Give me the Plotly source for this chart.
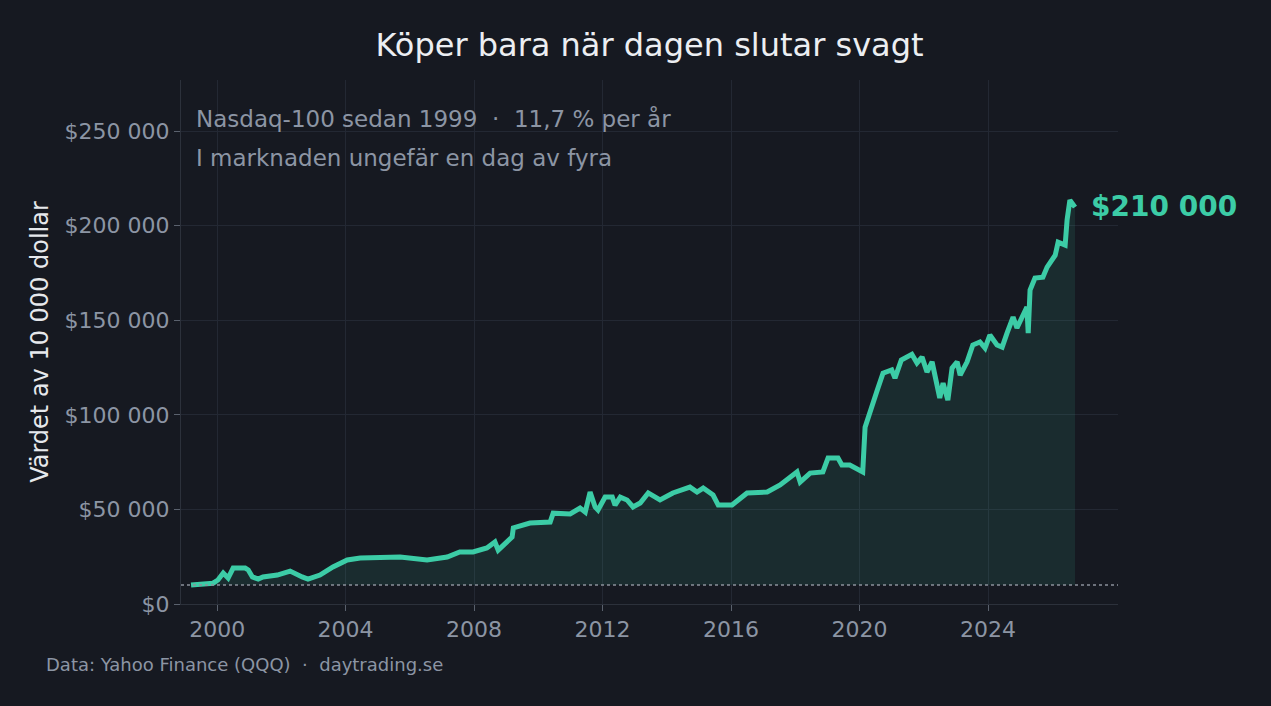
import plotly.graph_objects as go

# Portfolio value of 10 000 USD
dates = [
    "1999-03-10", "1999-06-20", "1999-11-15", "2000-01-10", "2000-03-10", "2000-05-05",
    "2000-07-01", "2000-11-15", "2000-12-20", "2001-02-05", "2001-04-12", "2001-06-05",
    "2001-11-15", "2002-04-10", "2002-06-28", "2002-08-25", "2002-10-30", "2003-03-15",
    "2003-08-10", "2004-01-20", "2004-06-15", "2005-01-25", "2005-09-12", "2006-07-15",
    "2007-03-01", "2007-07-22", "2007-12-20", "2008-05-25", "2008-08-25", "2008-10-01",
    "2009-03-08", "2009-03-22", "2009-09-27", "2010-05-15", "2010-06-18", "2010-12-28",
    "2011-04-20", "2011-06-18", "2011-08-12", "2011-10-08", "2011-11-10", "2012-01-30",
    "2012-04-20", "2012-05-22", "2012-07-20", "2012-10-05", "2012-12-12", "2013-03-04",
    "2013-06-03", "2013-10-15", "2014-03-10", "2014-09-20", "2014-12-10", "2015-02-18",
    "2015-06-10", "2015-08-08", "2016-01-12", "2016-07-01", "2017-02-15", "2017-07-12",
    "2017-09-28", "2018-01-20", "2018-02-25", "2018-06-18", "2018-11-10", "2019-01-08",
    "2019-05-01", "2019-06-14", "2019-09-12", "2020-02-06", "2020-03-04", "2020-05-01",
    "2020-07-20", "2020-09-24", "2021-01-01", "2021-02-07", "2021-04-20", "2021-08-18",
    "2021-10-15", "2021-12-12", "2022-02-06", "2022-04-05", "2022-05-30", "2022-07-01",
    "2022-08-08", "2022-10-01", "2022-11-18", "2023-01-15", "2023-02-18", "2023-05-08",
    "2023-07-12", "2023-10-01", "2023-11-28", "2024-01-22", "2024-04-12", "2024-06-10",
    "2024-08-04", "2024-10-12", "2024-11-25", "2025-02-03", "2025-03-18", "2025-04-02",
    "2025-04-23", "2025-06-18", "2025-09-16", "2025-11-03", "2026-02-03", "2026-03-08",
    "2026-05-27", "2026-06-18", "2026-07-20", "2026-09-16",
]
values = [
    10000, 10500, 11000, 12700, 16400, 13700,
    19000, 19000, 18000, 14300, 13200, 14300,
    15300, 17400, 15300, 14300, 13200, 15300,
    19600, 23300, 24300, 24300, 24800, 23300,
    24800, 27500, 27500, 29600, 32800, 28500,
    35400, 40200, 42800, 43300, 48000, 47600,
    50700, 48600, 59200, 51300, 49700, 56500,
    56500, 52300, 56500, 55000, 51300, 53400,
    58700, 55000, 58700, 61800, 59200, 61300,
    57600, 52300, 52300, 58700, 59200, 62900,
    65500, 69800, 64500, 69200, 69800, 77200,
    77200, 73500, 73500, 69800, 93500, 102500,
    113000, 122000, 123700, 119400, 129000, 132000,
    127400, 130500, 122600, 128000, 114700, 108900,
    116800, 107800, 124700, 128000, 121000, 128000,
    136900, 138500, 135300, 142200, 136900, 135800,
    143200, 151700, 145900, 153800, 157000, 143200,
    166000, 172300, 172800, 178100, 184400, 191300,
    189700, 203000, 213500, 209800,
]
start_value = 10000

year_ticks = ["2000-01-01", "2004-01-01", "2008-01-01", "2012-01-01",
              "2016-01-01", "2020-01-01", "2024-01-01"]
year_labels = ["2000", "2004", "2008", "2012", "2016", "2020", "2024"]
y_ticks = [0, 50000, 100000, 150000, 200000, 250000]
y_labels = ["$0", "$50 000", "$100 000", "$150 000", "$200 000", "$250 000"]

BG = "#161921"
TEAL = "#3ccca6"
GRID = "#232833"
MUTED = "#8c95a4"
FONT = "DejaVu Sans"
NB = "\u00a0"

fig = go.Figure()

# invisible baseline so the fill stops at the starting capital
fig.add_trace(go.Scatter(
    x=dates, y=[start_value] * len(dates), mode="lines",
    line=dict(width=0), hoverinfo="skip", showlegend=False,
))
fig.add_trace(go.Scatter(
    x=dates, y=values, mode="lines",
    line=dict(color=TEAL, width=5),
    fill="tonexty", fillcolor="rgba(60,204,166,0.11)",
    showlegend=False,
))

fig.add_shape(
    type="line", xref="paper", x0=0, x1=1, yref="y", y0=start_value, y1=start_value,
    line=dict(color="#8a909b", width=1.5, dash="dot"),
)

fig.add_annotation(
    x=dates[-1], y=values[-1], text="$210" + NB + "000",
    xanchor="left", yanchor="middle", xshift=14, yshift=1, showarrow=False,
    font=dict(family=FONT, size=28, color=TEAL, weight="bold"),
)
fig.add_annotation(
    xref="paper", yref="paper", x=0.0135, y=0.9256,
    text="Nasdaq-100 sedan 1999" + NB * 2 + "·" + NB * 2 + "11,7 % per år",
    xanchor="left", yanchor="middle", showarrow=False,
    font=dict(family=FONT, size=23, color=MUTED),
)
fig.add_annotation(
    xref="paper", yref="paper", x=0.0135, y=0.851,
    text="I marknaden ungefär en dag av fyra",
    xanchor="left", yanchor="middle", showarrow=False,
    font=dict(family=FONT, size=23, color=MUTED),
)
fig.add_annotation(
    xref="paper", yref="paper", x=-0.1462, y=-0.1164,
    text="Data: Yahoo Finance (QQQ)" + NB * 2 + "·" + NB * 2 + "daytrading.se",
    xanchor="left", yanchor="middle", showarrow=False,
    font=dict(family=FONT, size=18, color=MUTED),
)

fig.update_layout(
    width=1271, height=706,
    paper_bgcolor=BG, plot_bgcolor=BG,
    margin=dict(l=181, r=153, t=80, b=102),
    font=dict(family=FONT, color=MUTED),
    title=dict(
        text="Köper bara när dagen slutar svagt",
        x=0.5, xref="paper", xanchor="center", y=0.936, yanchor="middle",
        font=dict(family=FONT, size=32, color="#eceef2"),
    ),
    showlegend=False,
)
fig.update_xaxes(
    type="date", range=["1998-11-16", "2028-01-18"],
    tickvals=year_ticks, ticktext=year_labels,
    showgrid=True, gridcolor=GRID, gridwidth=1,
    showline=True, linecolor="#2c313b", linewidth=1,
    ticks="outside", ticklen=6, tickcolor="#5a616d",
    tickfont=dict(family=FONT, size=22, color=MUTED),
    zeroline=False,
)
fig.update_yaxes(
    range=[0, 277000],
    tickvals=y_ticks, ticktext=y_labels,
    showgrid=True, gridcolor=GRID, gridwidth=1,
    showline=True, linecolor="#2c313b", linewidth=1,
    ticks="outside", ticklen=6, tickcolor="#5a616d",
    tickfont=dict(family=FONT, size=22, color=MUTED),
    title=dict(text="Värdet av 10 000 dollar", standoff=9,
               font=dict(family=FONT, size=24, color="#e6e8ec")),
    zeroline=False,
)

fig.write_html(
    "out.html",
    config={"displayModeBar": False},
    post_script="document.body.style.margin='0';document.body.style.background='" + BG + "';",
)
